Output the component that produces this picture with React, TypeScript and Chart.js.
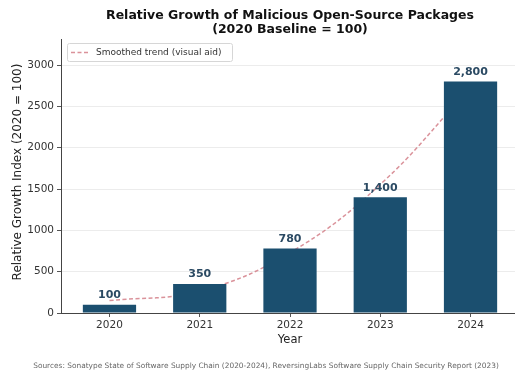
import React, { useEffect, useRef } from "react";
import { Chart, registerables } from "chart.js";

Chart.register(...registerables);

const years: string[] = ["2020", "2021", "2022", "2023", "2024"];
const growthIndex: number[] = [100, 350, 780, 1400, 2800];
const barLabels: string[] = ["100", "350", "780", "1,400", "2,800"];
const trendValues: number[] = [150, 265, 730, 1555, 2730];
const yTicks: number[] = [0, 500, 1000, 1500, 2000, 2500, 3000];

const titleLines: string[] = ["Relative Growth of Malicious Open-Source Packages", "(2020 Baseline = 100)"];
const yTitle = "Relative Growth Index (2020 = 100)";
const xTitle = "Year";
const legendText = "Smoothed trend (visual aid)";
const sourceText =
  "Sources: Sonatype State of Software Supply Chain (2020-2024), ReversingLabs Software Supply Chain Security Report (2023)";

const FONT = "'DejaVu Sans', sans-serif";
const BAR_COLOR = "#1b4f6f";
const TREND_COLOR = "rgba(205, 110, 120, 0.75)";

const W = 522;
const H = 374;
const AREA_LEFT = 61;
const AREA_TOP = 39;
const AREA_BOTTOM = 313;
const AREA_RIGHT = 519;

const decorPlugin = {
  id: "decor",
  afterDatasetsDraw(chart: any) {
    const ctx = chart.ctx;
    const meta = chart.getDatasetMeta(0);
    ctx.save();
    ctx.font = `bold 11px ${FONT}`;
    ctx.fillStyle = "#2b4a63";
    ctx.textAlign = "center";
    ctx.textBaseline = "bottom";
    meta.data.forEach((el: any, i: number) => {
      ctx.fillText(barLabels[i], el.x, el.y - 4);
    });
    ctx.restore();
  },
  afterDraw(chart: any) {
    const ctx = chart.ctx;
    const area = chart.chartArea;
    ctx.save();
    ctx.fillStyle = "#111";
    ctx.font = `bold 12.5px ${FONT}`;
    ctx.textAlign = "center";
    ctx.textBaseline = "middle";
    const cx = (area.left + area.right) / 2;
    ctx.fillText(titleLines[0], cx, 16);
    ctx.fillText(titleLines[1], cx, 30);

    ctx.font = `12px ${FONT}`;
    ctx.fillStyle = "#222";
    ctx.save();
    ctx.translate(18, 172);
    ctx.rotate(-Math.PI / 2);
    ctx.fillText(yTitle, 0, 0);
    ctx.restore();

    ctx.font = `11.5px ${FONT}`;
    ctx.fillStyle = "#222";
    ctx.fillText(xTitle, cx, 340);

    ctx.font = `7.4px ${FONT}`;
    ctx.fillStyle = "#666";
    ctx.fillText(sourceText, 266, 366);

    const lx = 67, ly = 43, lw = 165, lh = 18;
    ctx.fillStyle = "rgba(255,255,255,0.85)";
    ctx.strokeStyle = "#d6d6d6";
    ctx.lineWidth = 1;
    ctx.beginPath();
    if ((ctx as any).roundRect) (ctx as any).roundRect(lx + 0.5, ly + 0.5, lw, lh, 2);
    else ctx.rect(lx + 0.5, ly + 0.5, lw, lh);
    ctx.fill();
    ctx.stroke();
    ctx.strokeStyle = TREND_COLOR;
    ctx.lineWidth = 1.5;
    ctx.setLineDash([4, 2.5]);
    ctx.beginPath();
    ctx.moveTo(71, ly + 9.5);
    ctx.lineTo(88, ly + 9.5);
    ctx.stroke();
    ctx.setLineDash([]);
    ctx.font = `9px ${FONT}`;
    ctx.fillStyle = "#333";
    ctx.textAlign = "left";
    ctx.fillText(legendText, 96, ly + 10);
    ctx.restore();
  },
};

export default function App() {
  const ref = useRef<HTMLCanvasElement | null>(null);
  useEffect(() => {
    if (!ref.current) return;
    const chart = new Chart(ref.current, {
      type: "bar",
      data: {
        datasets: [
          {
            type: "bar",
            label: "Relative Growth Index",
            data: growthIndex.map((v, i) => ({ x: i, y: v })),
            backgroundColor: BAR_COLOR,
            borderWidth: 0,
            barPercentage: 0.59,
            categoryPercentage: 1,
            order: 1,
          } as any,
          {
            type: "line",
            label: legendText,
            data: trendValues.map((v, i) => ({ x: i, y: v })),
            borderColor: TREND_COLOR,
            borderWidth: 1.5,
            borderDash: [4, 2.5],
            pointRadius: 0,
            tension: 0.4,
            fill: false,
            order: 2,
          } as any,
        ],
      },
      options: {
        responsive: false,
        animation: false,
        layout: { padding: { left: 0, right: W - AREA_RIGHT, top: AREA_TOP, bottom: 0 } },
        plugins: {
          legend: { display: false },
          title: { display: false },
          tooltip: { enabled: false },
        },
        scales: {
          x: {
            type: "linear",
            offset: false,
            min: -0.537,
            max: 4.537,
            afterBuildTicks: (axis: any) => {
              axis.ticks = years.map((_, i) => ({ value: i }));
            },
            afterFit: (scale: any) => {
              scale.height = H - AREA_BOTTOM;
            },
            ticks: {
              callback: (v: any) => years[v] ?? "",
              font: { family: FONT, size: 10.5 },
              color: "#333",
              padding: 2,
              maxRotation: 0,
              autoSkip: false,
            },
            grid: { offset: false, drawOnChartArea: false, tickLength: 4, tickColor: "#555" },
            border: { color: "#444", width: 1 },
          },
          y: {
            min: 0,
            max: 3315,
            afterBuildTicks: (axis: any) => {
              axis.ticks = yTicks.map((v) => ({ value: v }));
            },
            afterFit: (scale: any) => {
              scale.width = AREA_LEFT;
            },
            ticks: {
              callback: (v: any) => String(v),
              font: { family: FONT, size: 10.5 },
              color: "#333",
              padding: 3,
            },
            grid: { color: "#ececec", tickLength: 4, tickColor: "#555", lineWidth: 1 },
            border: { color: "#444", width: 1 },
          },
        },
      },
      plugins: [decorPlugin],
    } as any);
    return () => chart.destroy();
  }, []);
  return (
    <div style={{ position: "fixed", left: 0, top: 0, width: W, height: H, background: "#fff" }}>
      <canvas ref={ref} width={W} height={H} style={{ width: W, height: H, display: "block" }} />
    </div>
  );
}
